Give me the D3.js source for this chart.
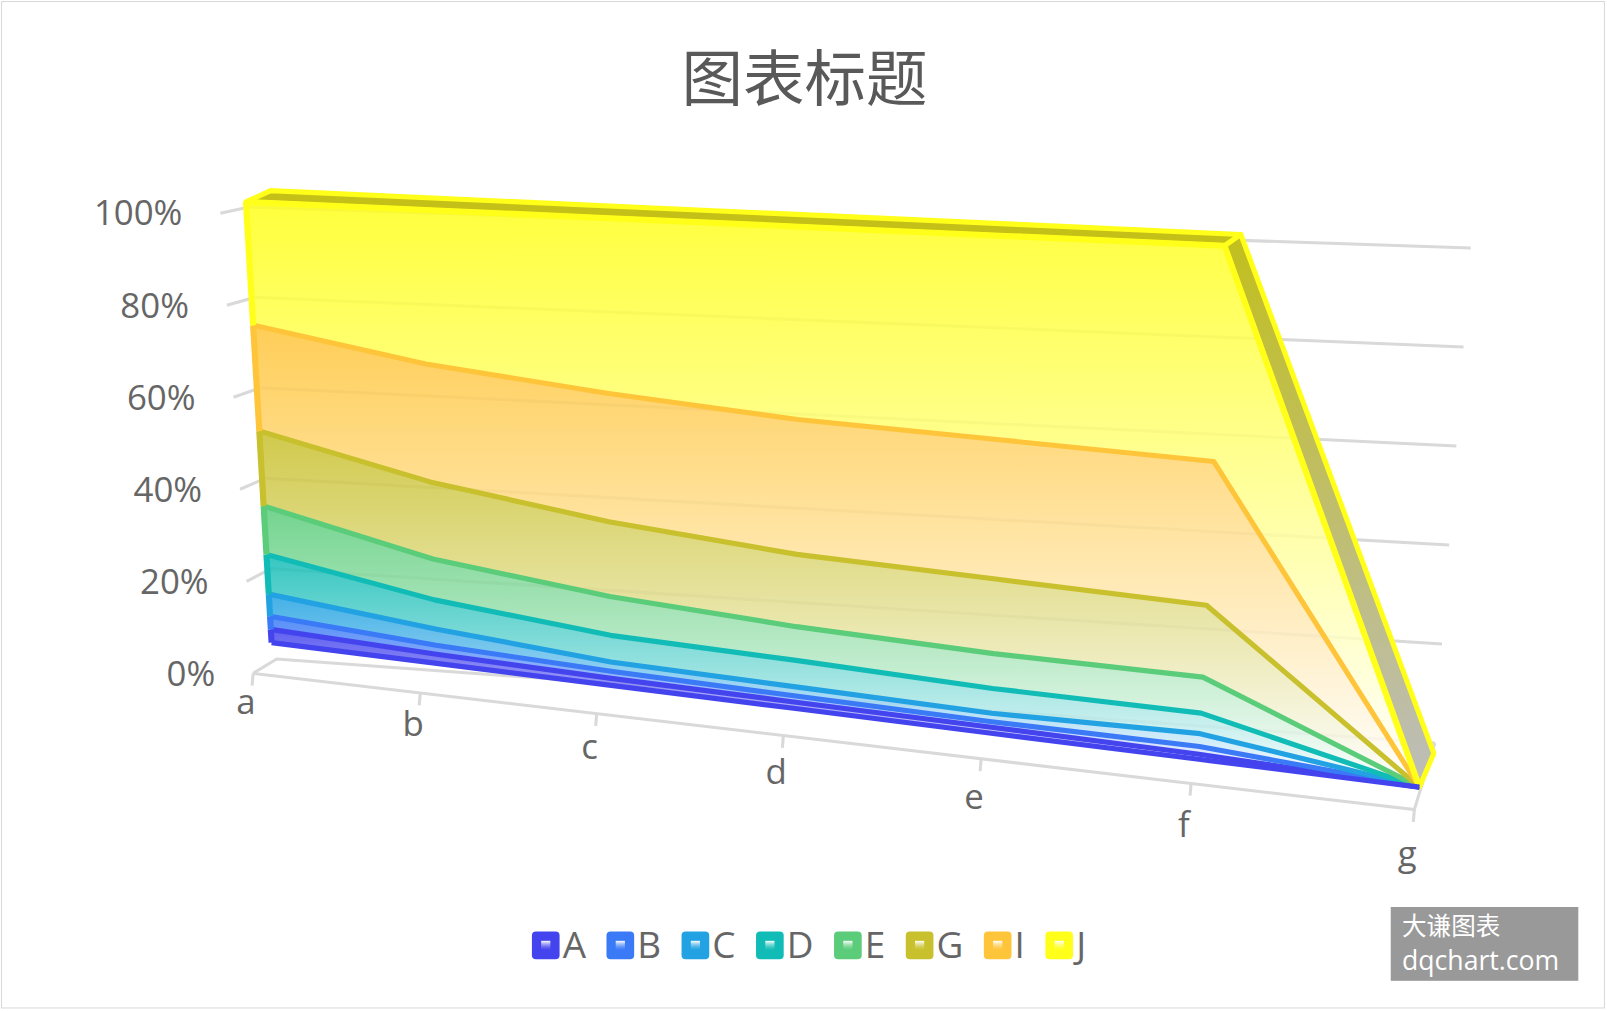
<!DOCTYPE html>
<html><head><meta charset="utf-8">
<script src="https://cdn.jsdelivr.net/npm/d3@7"></script>
<style>body{margin:0;background:#fff;font-family:"Open Sans","Noto Sans CJK SC",sans-serif}</style>
</head><body><div id="chart"></div>
<script>
const categories = ["a", "b", "c", "d", "e", "f", "g"];
const seriesNames = ["A", "B", "C", "D", "E", "G", "I", "J"];
const seriesColors = ["#4444ee", "#3a7af6", "#22a2e2", "#12bcb6", "#5acc7a", "#c8c02c", "#ffc53a", "#ffff1a"];
// percent of column, one array per series
const valA = [3, 2, 1.5, 1.3, 1.2, 1, 0];
const valB = [3, 2, 1.5, 1.3, 1.1, 1.5, 0];
const valC = [5, 3.6, 2, 1.9, 1.7, 2.5, 0];
const valD = [9, 6.4, 5.7, 5.5, 5, 4, 0];
const valE = [11, 9, 8.3, 7, 7, 7, 0];
const valG = [17, 17, 16, 15, 15, 14, 0];
const valI = [24, 26, 27.5, 28, 28, 28, 0];
const valJ = [28, 34, 37.5, 40, 41, 42, 0];
const yTicks = [0, 0.2, 0.4, 0.6, 0.8, 1];
const tickLabels = ["0%", "20%", "40%", "60%", "80%", "100%"];

const W = 1607, H = 1011;
const root = d3.select("#chart").append("svg").attr("width", W).attr("height", H);
const svg = root.append("g").attr("transform", `scale(${1607 / 1568})`);
svg.append("rect").attr("x", 1.5).attr("y", 1.5).attr("width", 1564).attr("height", 982)
  .attr("fill", "#fff").attr("stroke", "#d9d9d9");

// perspective along the category axis
const r = 1.19;
const persp = u => u / (u + r * (1 - u));
const xs = d3.scalePoint().domain(categories).range([0, 1]);
const lerp = (p, q, t) => [p[0] + (q[0] - p[0]) * t, p[1] + (q[1] - p[1]) * t];

// front face of the series
const B0 = [265, 627], B1 = [1385, 768], T0 = [240, 197], T1 = [1422, 250];
function front(cat, v) {
  const s = persp(xs(cat));
  return lerp(lerp(B0, B1, s), lerp(T0, T1, s), v);
}
function depth(cat, v) {
  const s = persp(xs(cat));
  const p = front(cat, v);
  return [p[0] + 24 - 10 * s, p[1] - 11 - 22 * s * (1 - v)];
}

// back wall + floor
const WB0 = [270, 643], WT0 = [243, 202], WB1 = [1400, 725], WT1 = [1435, 242];
const FL0 = [247, 657], FLT = [215, 208], FR = [1380, 790];
const yv = d3.scaleLinear().domain([0, 1]).range([0, 1]);
const grid = svg.append("g").attr("stroke", "#d9d9d9").attr("stroke-width", 3).attr("fill", "none");
yTicks.forEach((t, i) => {
  const a = lerp(WB0, WT0, yv(t)), b = lerp(WB1, WT1, yv(t)), f = lerp(FL0, FLT, yv(t));
  grid.append("path").attr("d", d3.line()([f, a, b]));
  svg.append("text").attr("x", f[0] - 37).attr("y", f[1] + 12).attr("text-anchor", "end")
    .attr("font-size", 34).attr("fill", "#666").text(tickLabels[i]);
});
grid.append("path").attr("d", d3.line()([FL0, FR, WB1]));
categories.forEach(c => {
  const s = persp(xs(c));
  const p = lerp(FL0, FR, s);
  grid.append("path").attr("d", d3.line()([p, [p[0] - 1, p[1] + 12]]));
  svg.append("text").attr("x", p[0] - 7).attr("y", p[1] + 40 + 15 * s).attr("text-anchor", "middle")
    .attr("font-size", 34).attr("fill", "#666").text(c);
});

// stacking
const rows = categories.map((c, i) => {
  const o = { cat: c };
  [valA, valB, valC, valD, valE, valG, valI, valJ].forEach((arr, k) => o[seriesNames[k]] = arr[i]);
  return o;
});
const stacked = d3.stack().keys(seriesNames).offset(d3.stackOffsetExpand)(rows);
stacked.forEach(layer => layer.forEach(d => { if (isNaN(d[0])) d[0] = 0; if (isNaN(d[1])) d[1] = 0; }));

const defs = svg.append("defs");
seriesColors.forEach((col, k) => {
  const g = defs.append("linearGradient").attr("id", "g" + k).attr("x1", 0).attr("y1", 0).attr("x2", 0).attr("y2", 1);
  g.append("stop").attr("offset", "0%").attr("stop-color", col);
  g.append("stop").attr("offset", "100%").attr("stop-color", "#fff");
  const f = defs.append("linearGradient").attr("id", "lg" + k).attr("x1", 0).attr("y1", 0).attr("x2", 0).attr("y2", 1);
  f.append("stop").attr("offset", "0%").attr("stop-color", "#fff");
  f.append("stop").attr("offset", "100%").attr("stop-color", col).attr("stop-opacity", 0.4);
});
const sideG = defs.append("linearGradient").attr("id", "side").attr("x1", 0).attr("y1", 0).attr("x2", 0).attr("y2", 1);
sideG.append("stop").attr("offset", "0%").attr("stop-color", "#c2bf1c");
sideG.append("stop").attr("offset", "100%").attr("stop-color", "#bdbdbd");

const line = d3.line();
// J top & right side surfaces
const topLayer = stacked[stacked.length - 1];
const topFront = topLayer.map(d => front(d.data.cat, d[1]));
const topBack = topLayer.map(d => depth(d.data.cat, d[1]));
const n = categories.length;
svg.append("path").attr("d", line(topFront.slice(0, n - 1).concat(topBack.slice(0, n - 1).reverse())) + "Z")
  .attr("fill", "#c4c018").attr("stroke", "#ffff1a").attr("stroke-width", 5).attr("stroke-linejoin", "round");
svg.append("path").attr("d", line([topFront[n - 2], topFront[n - 1], topBack[n - 1], topBack[n - 2]]) + "Z")
  .attr("fill", "url(#side)").attr("stroke", "#ffff1a").attr("stroke-width", 5).attr("stroke-linejoin", "round");

// front faces
stacked.forEach((layer, k) => {
  const upper = layer.map(d => front(d.data.cat, d[1]));
  const lower = layer.map(d => front(d.data.cat, d[0])).reverse();
  svg.append("path").attr("d", line(upper.concat(lower)) + "Z")
    .attr("fill", "url(#g" + k + ")").attr("fill-opacity", 0.85);
});
stacked.forEach((layer, k) => {
  const upper = layer.map(d => front(d.data.cat, d[1]));
  svg.append("path").attr("d", line(upper)).attr("fill", "none")
    .attr("stroke", seriesColors[k]).attr("stroke-width", k === 7 ? 6 : 5).attr("stroke-linejoin", "round");
  const edge = [front(categories[0], layer[0][0]), front(categories[0], layer[0][1])];
  svg.append("path").attr("d", line(edge)).attr("stroke", seriesColors[k]).attr("stroke-width", 6);
});
// bottom edge
svg.append("path").attr("d", line(categories.map(c => front(c, 0)))).attr("fill", "none")
  .attr("stroke", seriesColors[0]).attr("stroke-width", 5);

// title
svg.append("text").attr("x", 785).attr("y", 99).attr("text-anchor", "middle")
  .attr("font-size", 60).attr("fill", "#595959").attr("font-family", "Noto Sans CJK SC").text("图表标题");

// legend
const legend = svg.append("g").attr("transform", "translate(519,922)");
let lx = 0;
seriesNames.forEach((name, k) => {
  const it = legend.append("g").attr("transform", `translate(${lx},0)`);
  it.append("rect").attr("x", 0).attr("y", -13).attr("width", 27).attr("height", 27).attr("rx", 4)
    .attr("fill", seriesColors[k]);
  it.append("rect").attr("x", 9).attr("y", -4).attr("width", 9).attr("height", 9).attr("fill", "url(#lg" + k + ")");
  const t = it.append("text").attr("x", 30).attr("y", 13).attr("font-size", 36).attr("fill", "#666").text(name);
  lx += 30 + t.node().getComputedTextLength() + 20;
});

// watermark
svg.append("rect").attr("x", 1357).attr("y", 885).attr("width", 183).attr("height", 72).attr("fill", "#999");
svg.append("text").attr("x", 1368).attr("y", 912).attr("font-size", 24).attr("fill", "#fff")
  .attr("font-family", "Noto Sans CJK SC").text("大谦图表");
svg.append("text").attr("x", 1368).attr("y", 946).attr("font-size", 26).attr("fill", "#fff").text("dqchart.com");
</script></body></html>
